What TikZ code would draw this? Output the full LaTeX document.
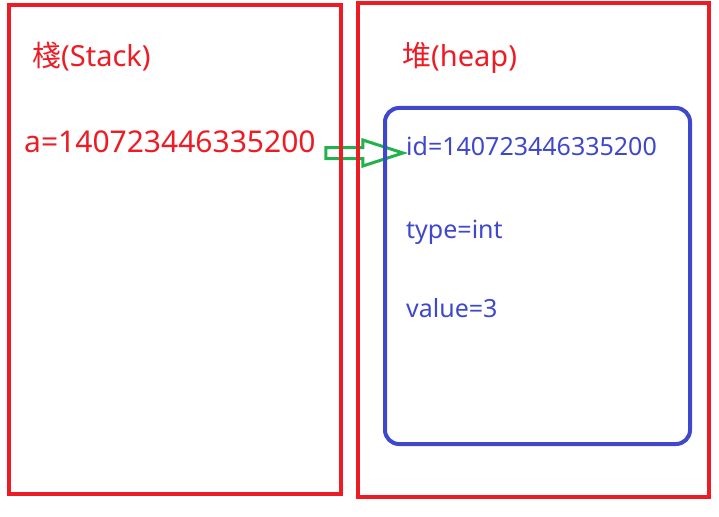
\documentclass[tikz,border=0pt]{standalone}
\usepackage{fontspec}
\setmainfont{Noto Sans}
\newfontfamily\cjk{Noto Sans CJK TC}
\usetikzlibrary{calc}
\definecolor{paintred}{HTML}{ED1C24}
\definecolor{paintblue}{HTML}{3F48CC}
\definecolor{paintgreen}{HTML}{22B14C}

\begin{document}
\begin{tikzpicture}[
  x=1pt, y=-1pt,
  membox/.style={draw=paintred, line width=4.5pt, minimum width=#1},
  objbox/.style={draw=paintblue, line width=4pt, rounded corners=14pt,
                 minimum width=305pt, minimum height=336pt},
  title/.style={anchor=base west, inner sep=0pt, text=paintred, font=\fontsize{29}{34}\selectfont},
  redtxt/.style={anchor=base west, inner sep=0pt, text=paintred, font=\fontsize{30}{36}\selectfont},
  bluetxt/.style={anchor=base west, inner sep=0pt, text=paintblue, font=\fontsize{25}{30}\selectfont},
  arr/.style={draw=paintgreen, line width=3pt, line join=miter}
]
  \useasboundingbox (0,0) rectangle (719,516);
  % texts
  \node[title]   (stacklbl) at (32, 67)  {{\cjk 棧}(Stack)};
  \node[title]   (heaplbl)  at (402, 67) {{\cjk 堆}(heap)};
  \node[redtxt]  (aval)     at (24, 152) {a=140723446335200};
  \node[bluetxt] (idval)    at (406, 155) {id=140723446335200};
  \node[bluetxt] (typeval)  at (406, 238) {type=int};
  \node[bluetxt] (valval)   at (406, 317) {value=3};
  % reference arrow
  \coordinate (tail) at ($(aval.base east)+(10,1)$);
  \coordinate (tip)  at ($(idval.base west)+(-3,-2)$);
  \draw[arr] ($(tail)+(0,-5.5)$) -- ($(tail)+(37,-5.5)$) -- ($(tail)+(37,-13)$)
    -- (tip) -- ($(tail)+(37,13)$) -- ($(tail)+(37,5.5)$) -- ($(tail)+(0,5.5)$) -- cycle;
  % memory areas
  \node[membox=332pt, minimum height=489pt] (stack) at (175, 249.5) {};
  \node[membox=351pt, minimum height=494pt] (heap)  at (533.5, 250) {};
  \node[objbox] (obj) at (537.5, 276) {};
\end{tikzpicture}
\end{document}
